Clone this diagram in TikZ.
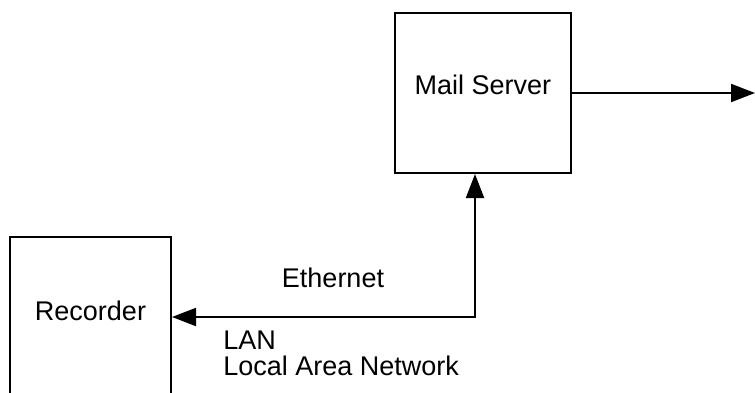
\documentclass[tikz,border=0pt]{standalone}
\usepackage{fontspec}
\setmainfont{Liberation Sans}
\usetikzlibrary{arrows.meta,positioning,calc}
\tikzset{
    % Box for a device
    devicebox/.style={
        draw=black,
        fill=white,
        line width=1pt,
        inner sep=0pt,
        text depth=8pt,
        align=center
    },
    % Plain text label
    textlabel/.style={
        inner sep=0pt,
        align=left
    },
    % Connector with a filled tip
    myarrow/.style={
        -{Triangle[length=12pt,width=9pt]},
        line width=1pt,
        draw=black
    },
    % Connector with tips at both ends
    biarrow/.style={
        {Triangle[length=12pt,width=9pt]}-{Triangle[length=12pt,width=9pt]},
        line width=1pt,
        draw=black
    }
}
\begin{document}
\begin{tikzpicture}[x=0.5pt, y=-0.5pt, font=\fontsize{13.5}{13}\selectfont]
    \useasboundingbox (0,0) rectangle (755,392);

    \node[devicebox, minimum width=88pt, minimum height=80pt] (mail) at (483,93) {Mail Server};
    \node[devicebox, minimum width=80.5pt, minimum height=82pt] (rec) at (90.5,319) {Recorder};

    \coordinate (bend) at (475,317);
    \coordinate (out) at (755,93);

    \node[textlabel] (eth) at (333,278) {Ethernet};
    \node[textlabel, anchor=north west] (lan) at (223,331) {LAN\\Local Area Network};

    \draw[myarrow] (mail.east) -- (out);
    \draw[biarrow] (rec.east |- bend) -- (bend) -- (bend |- mail.south);
\end{tikzpicture}
\end{document}
